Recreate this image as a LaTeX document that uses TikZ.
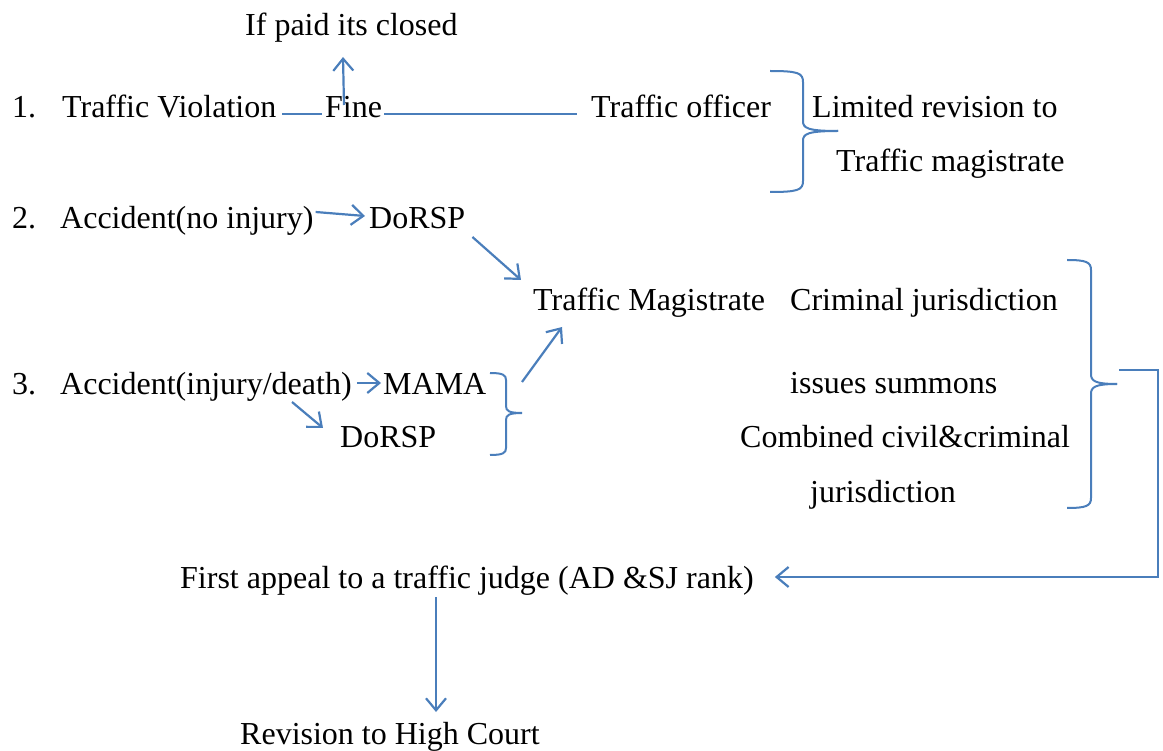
\documentclass[tikz,border=0pt]{standalone}
\usepackage{fontspec}
\setmainfont{Liberation Serif}
\usetikzlibrary{arrows.meta,calc}
\definecolor{lineblue}{HTML}{4A7EBB}
\begin{document}
\begin{tikzpicture}[x=1pt,y=-1pt,
  txt/.style={anchor=base west,inner sep=0pt,font=\fontsize{32}{38}\selectfont},
  conn/.style={draw=lineblue,line width=2.2pt},
  arr/.style={conn,-{Straight Barb[length=12pt,width=20pt]}},
  brc/.style={draw=lineblue,line width=2pt}]
\useasboundingbox (0,0) rectangle (1163,751);
% texts
\node[txt] (paid) at (245,36) {If paid its closed};
\node[txt] (n1) at (12,118) {1.};
\node[txt] (tv) at (62,118) {Traffic Violation};
\node[txt] (fine) at (325,118) {Fine};
\node[txt] (to) at (591,118) {Traffic officer};
\node[txt] (lr) at (812,118) {Limited revision to};
\node[txt] (tm1) at (836,172) {Traffic magistrate};
\node[txt] (n2) at (12,229) {2.};
\node[txt] (a2) at (60,229) {Accident(no injury)};
\node[txt] (d2) at (369,229) {DoRSP};
\node[txt] (tmag) at (533,311) {Traffic Magistrate};
\node[txt] (cj) at (790,311) {Criminal jurisdiction};
\node[txt] (n3) at (12,395) {3.};
\node[txt] (a3) at (60,395) {Accident(injury/death)};
\node[txt] (mama) at (383,395) {MAMA};
\node[txt] (d3) at (340,448) {DoRSP};
\node[txt] (is) at (790,394) {issues summons};
\node[txt] (cc) at (740,448) {Combined civil\&criminal};
\node[txt] (jur) at (810,502) {jurisdiction};
\node[txt] (fa) at (180,588) {First appeal to a traffic judge (AD \&SJ rank)};
\node[txt] (rev) at (240,744) {Revision to High Court};
% connectors
\draw[conn] ($(tv.base east)+(6,-4)$) -- ($(fine.base west)+(-3,-4)$);
\draw[conn] ($(fine.base east)+(2,-4)$) -- ($(to.base west)+(-14,-4)$);
\draw[arr] ($(fine.base west)+(19,-13)$) -- ($(paid.base west)+(98,21)$);
\draw[arr] ($(a2.base east)+(2,-17)$) -- ($(d2.base west)+(-4,-13)$);
\draw[arr] ($(d2.base east)+(7,8)$) -- ($(tmag.base west)+(-12,-31)$);
\draw[arr] ($(a3.base east)+(5,-12)$) -- ($(mama.base west)+(-2,-12)$);
\draw[arr] ($(a3.base west)+(232,7)$) -- ($(d3.base west)+(-17,-20)$);
\coordinate (b2tip) at (522,413);
\draw[arr] ($(b2tip)+(0,-31)$) -- ($(tmag.base west)+(29,16)$);
% braces
\draw[brc] (770,71) .. controls (798,71) and (803,73) .. (803,82) -- (803,121)
  .. controls (803,128) and (807,131) .. (838,131);
\draw[brc] (838,131) .. controls (807,131) and (803,134) .. (803,141) -- (803,181)
  .. controls (803,190) and (798,192) .. (770,192);
\draw[brc] (490,373) .. controls (503,373) and (506,375) .. (506,380) -- (506,406)
  .. controls (506,411) and (509,413) .. (b2tip);
\draw[brc] (b2tip) .. controls (509,413) and (506,415) .. (506,420) -- (506,448)
  .. controls (506,453) and (503,455) .. (490,455);
\coordinate (b3tip) at (1117,384);
\draw[brc] (1067,260) .. controls (1086,260) and (1091,262) .. (1091,270) -- (1091,374)
  .. controls (1091,381) and (1095,384) .. (b3tip);
\draw[brc] (b3tip) .. controls (1095,384) and (1091,387) .. (1091,394) -- (1091,498)
  .. controls (1091,506) and (1086,508) .. (1067,508);
\coordinate (c3) at (1119,370);
\draw[arr] (c3) -- (1158,370) |- ($(fa.base east)+(21,-11)$);
\draw[arr] ($(fa.base west)+(256,9)$) -- ($(rev.base west)+(196,-32)$);
\end{tikzpicture}
\end{document}
